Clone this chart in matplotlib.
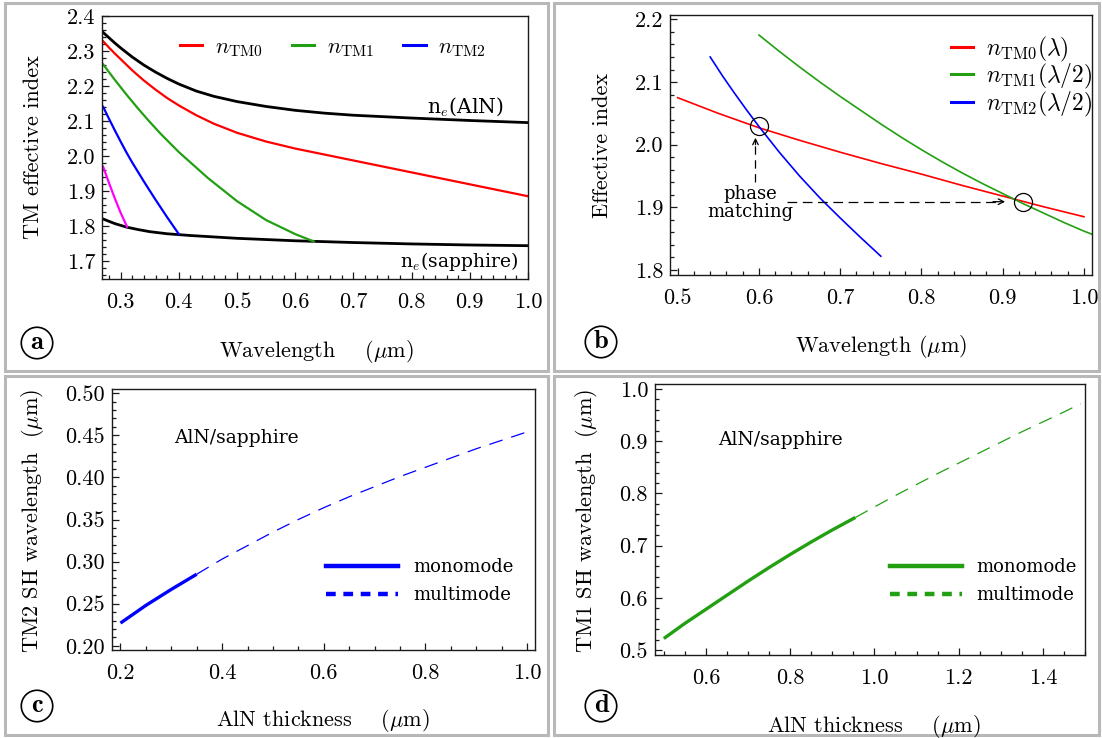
import matplotlib
matplotlib.use("Agg")
import matplotlib.pyplot as plt
from matplotlib.lines import Line2D
from matplotlib.patches import Rectangle
from matplotlib.ticker import MultipleLocator, FormatStrFormatter

plt.rcParams['font.family'] = ['cmr10', 'DejaVu Serif']
plt.rcParams['mathtext.fontset'] = 'cm'
plt.rcParams['axes.formatter.use_mathtext'] = True
plt.rcParams['lines.scale_dashes'] = False

# ---------------- data ----------------
# panel a : TM effective index vs wavelength (um)
wl_aln = [0.27, 0.28, 0.29, 0.30, 0.32, 0.34, 0.36, 0.38, 0.40, 0.43, 0.46, 0.50,
          0.55, 0.60, 0.65, 0.70, 0.80, 0.90, 1.00]
n_aln = [2.353, 2.338, 2.323, 2.309, 2.283, 2.260, 2.240, 2.222, 2.206, 2.186, 2.171,
         2.156, 2.142, 2.131, 2.123, 2.117, 2.109, 2.102, 2.096]
wl_sap = [0.27, 0.29, 0.31, 0.33, 0.35, 0.38, 0.42, 0.46, 0.50, 0.60, 0.70, 0.80,
          0.90, 1.00]
n_sap = [1.821, 1.808, 1.798, 1.791, 1.785, 1.779, 1.774, 1.770, 1.766, 1.759, 1.754,
         1.750, 1.747, 1.745]
wl_tm0 = [0.27, 0.28, 0.29, 0.30, 0.32, 0.34, 0.36, 0.38, 0.40, 0.43, 0.46, 0.50,
          0.55, 0.60, 0.65, 0.70, 0.80, 0.90, 1.00]
n_tm0 = [2.328, 2.310, 2.293, 2.277, 2.245, 2.216, 2.190, 2.166, 2.145, 2.117, 2.093,
         2.067, 2.042, 2.022, 2.005, 1.988, 1.954, 1.920, 1.886]
wl_tm1 = [0.27, 0.29, 0.31, 0.33, 0.35, 0.37, 0.40, 0.45, 0.50, 0.55, 0.60, 0.632]
n_tm1 = [2.262, 2.218, 2.176, 2.136, 2.098, 2.062, 2.012, 1.938, 1.872, 1.818, 1.778,
         1.757]
wl_tm2 = [0.27, 0.28, 0.29, 0.30, 0.31, 0.32, 0.34, 0.36, 0.38, 0.40]
n_tm2 = [2.141, 2.107, 2.074, 2.042, 2.011, 1.982, 1.928, 1.876, 1.826, 1.778]
wl_tm3 = [0.27, 0.28, 0.29, 0.30, 0.311]
n_tm3 = [1.970, 1.924, 1.880, 1.839, 1.799]
legend_a = [r'$n_{\mathrm{TM0}}$', r'$n_{\mathrm{TM1}}$', r'$n_{\mathrm{TM2}}$']

# panel b : phase matching
wl_b0 = [0.50, 0.55, 0.60, 0.65, 0.70, 0.75, 0.80, 0.85, 0.90, 0.95, 1.00]
nb_tm0 = [2.075, 2.050, 2.027, 2.007, 1.988, 1.970, 1.953, 1.935, 1.918, 1.901, 1.885]
wl_b1 = [0.600, 0.625, 0.650, 0.675, 0.700, 0.725, 0.750, 0.775, 0.800, 0.825, 0.850,
         0.875, 0.900, 0.925, 0.950, 0.975, 1.000, 1.010]
nb_tm1 = [2.175, 2.149, 2.124, 2.100, 2.077, 2.055, 2.033, 2.012, 1.992, 1.973, 1.955,
          1.938, 1.922, 1.906, 1.891, 1.876, 1.862, 1.857]
wl_b2 = [0.540, 0.555, 0.570, 0.585, 0.600, 0.625, 0.650, 0.675, 0.700, 0.725, 0.750]
nb_tm2 = [2.140, 2.110, 2.082, 2.055, 2.029, 1.988, 1.950, 1.915, 1.883, 1.852, 1.822]
legend_b = [r'$n_{\mathrm{TM0}}(\lambda)$', r'$n_{\mathrm{TM1}}(\lambda/2)$',
            r'$n_{\mathrm{TM2}}(\lambda/2)$']
pm_points_x = [0.600, 0.925]
pm_points_y = [2.030, 1.909]

# panel c : TM2 SH wavelength vs AlN thickness
tc_mono = [0.20, 0.25, 0.30, 0.35]
lc_mono = [0.227, 0.248, 0.267, 0.285]
tc_multi = [0.35, 0.40, 0.45, 0.50, 0.55, 0.60, 0.65, 0.70, 0.75, 0.80, 0.85, 0.90,
            0.95, 1.00]
lc_multi = [0.285, 0.303, 0.319, 0.335, 0.350, 0.364, 0.377, 0.389, 0.401, 0.412,
            0.423, 0.434, 0.444, 0.454]

# panel d : TM1 SH wavelength vs AlN thickness
td_mono = [0.50, 0.55, 0.60, 0.65, 0.70, 0.75, 0.80, 0.85, 0.90, 0.955]
ld_mono = [0.522, 0.551, 0.578, 0.605, 0.632, 0.658, 0.683, 0.707, 0.730, 0.754]
td_multi = [0.955, 1.00, 1.05, 1.10, 1.15, 1.20, 1.25, 1.30, 1.35, 1.40, 1.45, 1.49]
ld_multi = [0.754, 0.774, 0.796, 0.817, 0.838, 0.858, 0.878, 0.898, 0.918, 0.937,
            0.956, 0.972]

# ---------------- styles ----------------
RED = '#ff0000'
GREEN = '#22a012'
BLUE = '#0000ff'
MAGENTA = '#ff00ff'
SPINE = '#1a1a1a'
TXT = 'DejaVu Serif'
TICK_FS = 16
LAB_FS = 16

W, H = 1102, 738
fig = plt.figure(figsize=(W / 100, H / 100), dpi=100)


def px_axes(l, r, t, b):
    return fig.add_axes([l / W, 1 - b / H, (r - l) / W, (b - t) / H])


def ftext(x, y, s, **kw):
    return fig.text(x / W, 1 - y / H, s, **kw)


def style(ax, xmaj, xmin, ymaj, ymin, xfmt, yfmt):
    ax.xaxis.set_major_locator(MultipleLocator(xmaj))
    ax.xaxis.set_minor_locator(MultipleLocator(xmin))
    ax.yaxis.set_major_locator(MultipleLocator(ymaj))
    ax.yaxis.set_minor_locator(MultipleLocator(ymin))
    ax.xaxis.set_major_formatter(FormatStrFormatter(xfmt))
    ax.yaxis.set_major_formatter(FormatStrFormatter(yfmt))
    ax.tick_params(which='both', direction='in', top=False, right=False,
                   color=SPINE, width=0.9)
    ax.tick_params(which='major', length=5)
    ax.tick_params(which='minor', length=2.8)
    ax.tick_params(axis='x', which='major', pad=10, labelsize=TICK_FS)
    ax.tick_params(axis='y', which='major', pad=5, labelsize=TICK_FS)
    for sp in ax.spines.values():
        sp.set_color(SPINE)
        sp.set_linewidth(1.0)


# frames
for (x0, y0, x1, y1) in [(5, 3, 548, 371), (554, 3, 1099, 371),
                         (5, 376, 548, 735), (554, 376, 1099, 735)]:
    fig.patches.append(Rectangle((x0 / W, 1 - y1 / H), (x1 - x0) / W, (y1 - y0) / H,
                                 transform=fig.transFigure, fill=False,
                                 edgecolor='#b8b8b8', linewidth=2.2))

fit_list = []  # (text artist, target width in px)

# ---------------- panel a ----------------
axa = px_axes(102, 528, 16, 279)
axa.plot(wl_aln, n_aln, color='black', lw=2.0)
axa.plot(wl_sap, n_sap, color='black', lw=2.0)
axa.plot(wl_tm0, n_tm0, color=RED, lw=1.6)
axa.plot(wl_tm1, n_tm1, color=GREEN, lw=1.6)
axa.plot(wl_tm2, n_tm2, color=BLUE, lw=1.6)
axa.plot(wl_tm3, n_tm3, color=MAGENTA, lw=1.6)
axa.set_xlim(0.268, 1.0)
axa.set_ylim(1.65, 2.4)
style(axa, 0.1, 0.02, 0.1, 0.02, '%.1f', '%.1f')
ha0 = [Line2D([], [], color=c, lw=2.2) for c in (RED, GREEN, BLUE)]
axa.legend(ha0, legend_a, ncol=3, frameon=False, fontsize=16,
           loc='center left', bbox_to_anchor=((180 - 102) / 426, (279 - 48) / 263),
           borderpad=0, borderaxespad=0, handlelength=1.0,
           handletextpad=0.58, columnspacing=1.3)
t = axa.text(0.893, 2.141, r'n$_e$(AlN)', family=TXT, fontsize=13,
             ha='center', va='center')
fit_list.append((t, 77))
t = axa.text(0.881, 1.700, r'n$_e$(sapphire)', family=TXT, fontsize=13,
             ha='center', va='center')
fit_list.append((t, 118))
ftext(316, 352, r'Wavelength    ($\mu$m)', fontsize=LAB_FS, ha='center', va='center')
ftext(33, 147, 'TM effective index', fontsize=LAB_FS, ha='center', va='center',
      rotation=90)

# ---------------- panel b ----------------
axb = px_axes(670, 1092, 15, 275)
axb.plot(wl_b0, nb_tm0, color=RED, lw=1.2)
axb.plot(wl_b1, nb_tm1, color=GREEN, lw=1.2)
axb.plot(wl_b2, nb_tm2, color=BLUE, lw=1.2)
axb.plot(pm_points_x, pm_points_y, linestyle='none', marker='o', markersize=13,
         markerfacecolor='none', markeredgecolor='black', markeredgewidth=0.9)
axb.set_xlim(0.4905, 1.0099)
axb.set_ylim(1.792, 2.207)
style(axb, 0.1, 0.02, 0.1, 0.02, '%.1f', '%.1f')
hb = [Line2D([], [], color=c, lw=2.2) for c in (RED, GREEN, BLUE)]
axb.legend(hb, legend_b, frameon=False, fontsize=17,
           loc='upper left', bbox_to_anchor=((951 - 670) / 422, (275 - 35) / 260),
           borderpad=0, borderaxespad=0, handlelength=0.95,
           handletextpad=0.55, labelspacing=-0.08)
# phase matching arrows
axb.plot([0.5957, 0.5957], [1.940, 2.004], color='black', lw=0.9, dashes=(6, 4))
axb.annotate('', xy=(0.5957, 2.011), xytext=(0.5957, 2.000),
             arrowprops=dict(arrowstyle='->', lw=0.9, color='black',
                             shrinkA=0, shrinkB=0))
axb.plot([0.635, 0.895], [1.909, 1.909], color='black', lw=0.9, dashes=(7, 4))
axb.annotate('', xy=(0.903, 1.909), xytext=(0.888, 1.909),
             arrowprops=dict(arrowstyle='->', lw=0.9, color='black',
                             shrinkA=0, shrinkB=0))
t1 = axb.text(0.5896, 1.9205, 'phase', family=TXT, fontsize=13,
              ha='center', va='center')
t2 = axb.text(0.5896, 1.8925, 'matching', family=TXT, fontsize=13,
              ha='center', va='center')
fit_list.append((t2, 86))
ftext(881, 347, r'Wavelength ($\mu$m)', fontsize=LAB_FS, ha='center', va='center')
ftext(602, 145, 'Effective index', fontsize=LAB_FS, ha='center', va='center',
      rotation=90)

# ---------------- panel c ----------------
axc = px_axes(112, 535, 389, 650)
axc.plot(tc_mono, lc_mono, color=BLUE, lw=2.4, solid_capstyle='butt')
axc.plot(tc_multi, lc_multi, color=BLUE, lw=0.9, dashes=(10, 6.5))
axc.set_xlim(0.1833, 1.0157)
axc.set_ylim(0.195, 0.505)
style(axc, 0.2, 0.05, 0.05, 0.01, '%.1f', '%.2f')
hc = [Line2D([], [], color=BLUE, lw=3.2),
      Line2D([], [], color=BLUE, lw=3.2, dashes=(7, 5.5))]
axc.legend(hc, ['monomode', 'multimode'], frameon=False,
           prop={'family': TXT, 'size': 13},
           loc='center left', bbox_to_anchor=(0.468, 0.263), handlelength=4.0,
           handletextpad=0.8, labelspacing=0.55)
t = axc.text(0.306, 0.447, 'AlN/sapphire', family=TXT, fontsize=13,
             ha='left', va='center')
fit_list.append((t, 125))
ftext(323, 721, r'AlN thickness    ($\mu$m)', fontsize=LAB_FS, ha='center',
      va='center')
ftext(33, 521, r'TM2 SH wavelength  ($\mu$m)', fontsize=LAB_FS, ha='center',
      va='center', rotation=90)

# ---------------- panel d ----------------
axd = px_axes(655, 1085, 384, 655)
axd.plot(td_mono, ld_mono, color=GREEN, lw=2.4, solid_capstyle='butt')
axd.plot(td_multi, ld_multi, color=GREEN, lw=0.9, dashes=(10, 6.5))
axd.set_xlim(0.479, 1.5)
axd.set_ylim(0.4904, 1.0096)
style(axd, 0.2, 0.05, 0.1, 0.02, '%.1f', '%.1f')
hd = [Line2D([], [], color=GREEN, lw=3.2),
      Line2D([], [], color=GREEN, lw=3.2, dashes=(7, 5.5))]
axd.legend(hd, ['monomode', 'multimode'], frameon=False,
           prop={'family': TXT, 'size': 13},
           loc='center left', bbox_to_anchor=(0.509, 0.273), handlelength=4.0,
           handletextpad=0.8, labelspacing=0.55)
t = axd.text(0.629, 0.903, 'AlN/sapphire', family=TXT, fontsize=13,
             ha='left', va='center')
fit_list.append((t, 125))
ftext(874, 726, r'AlN thickness    ($\mu$m)', fontsize=LAB_FS, ha='center',
      va='center')
ftext(586, 521, r'TM1 SH wavelength  ($\mu$m)', fontsize=LAB_FS, ha='center',
      va='center', rotation=90)

# circled panel letters
for (x, y, s) in [(37, 343, 'a'), (601, 342, 'b'), (37, 706, 'c'), (601, 706, 'd')]:
    ftext(x, y, s, family='cmb10', fontsize=19, ha='center', va='center',
          bbox=dict(boxstyle='circle,pad=0.16', fc='white', ec='black', lw=1.2))

# scale the free annotation texts to the widths measured on the reference
fig.canvas.draw()
renderer = fig.canvas.get_renderer()
for art, target in fit_list:
    w = art.get_window_extent(renderer).width
    art.set_fontsize(art.get_fontsize() * target / w)
t1.set_fontsize(t2.get_fontsize())

fig.savefig('out.png', dpi=100)
